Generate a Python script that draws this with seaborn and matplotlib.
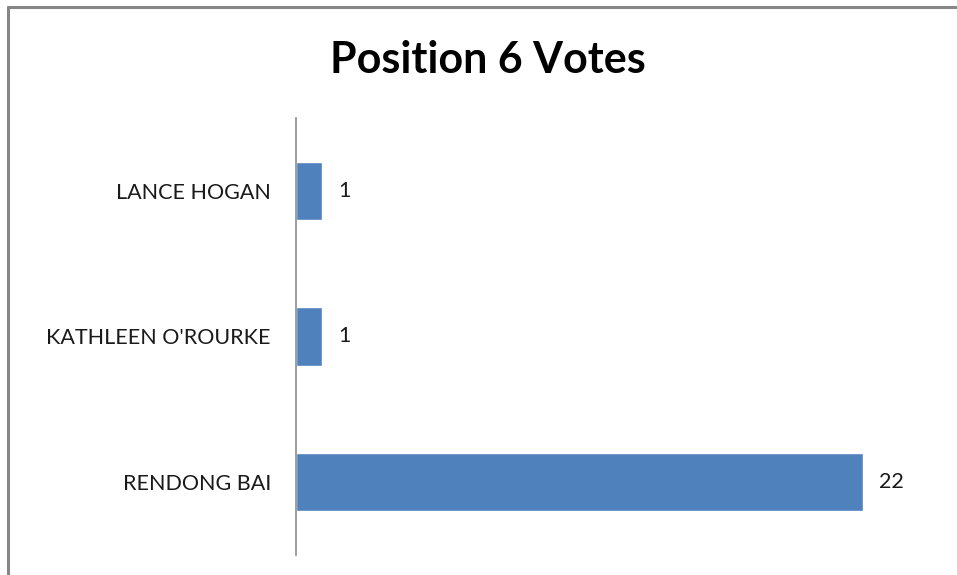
import matplotlib
matplotlib.use("Agg")
import matplotlib.pyplot as plt
import seaborn as sns
import pandas as pd

# data
candidates = ["LANCE HOGAN", "KATHLEEN O'ROURKE", "RENDONG BAI"]
votes = [1, 1, 22]
title = "Position 6 Votes"

df = pd.DataFrame({"Candidate": candidates, "Votes": votes})

sns.set_style("white")
plt.rcParams['font.family'] = ['Lato', 'DejaVu Sans']

fig = plt.figure(figsize=(9.57, 5.75), dpi=100)
ax = fig.add_axes([296/957, 1 - 555/575, (940-296)/957, (555-118)/575])

sns.barplot(data=df, x="Votes", y="Candidate", color="#4F81BD", saturation=1,
            width=0.4, ax=ax)
ax.set_xlim(0, 25)
ax.set_xlabel("")
ax.set_ylabel("")
ax.set_xticks([])
ax.tick_params(axis="y", length=0, pad=18, labelsize=15.5, labelcolor="#1a1a1a")

for s in ["top", "right", "bottom"]:
    ax.spines[s].set_visible(False)
ax.spines["left"].set_color("#8c8c8c")
ax.spines["left"].set_linewidth(1.2)

for cont in ax.containers:
    ax.bar_label(cont, padding=12, fontsize=15.5, color="#1a1a1a")

fig.text(488/957, 1 - 60/575, title, ha="center", va="center",
         fontsize=31, fontweight="bold", color="black")

# outer chart border (top and left visible, rest cut off)
fig.add_artist(plt.Line2D([8/957, 1.0], [1 - 7/575, 1 - 7/575], color="#868686",
                          lw=2.2, transform=fig.transFigure))
fig.add_artist(plt.Line2D([8/957, 8/957], [1 - 7/575, 0.0], color="#868686",
                          lw=2.2, transform=fig.transFigure))

fig.savefig("out.png", dpi=100, facecolor="white")
